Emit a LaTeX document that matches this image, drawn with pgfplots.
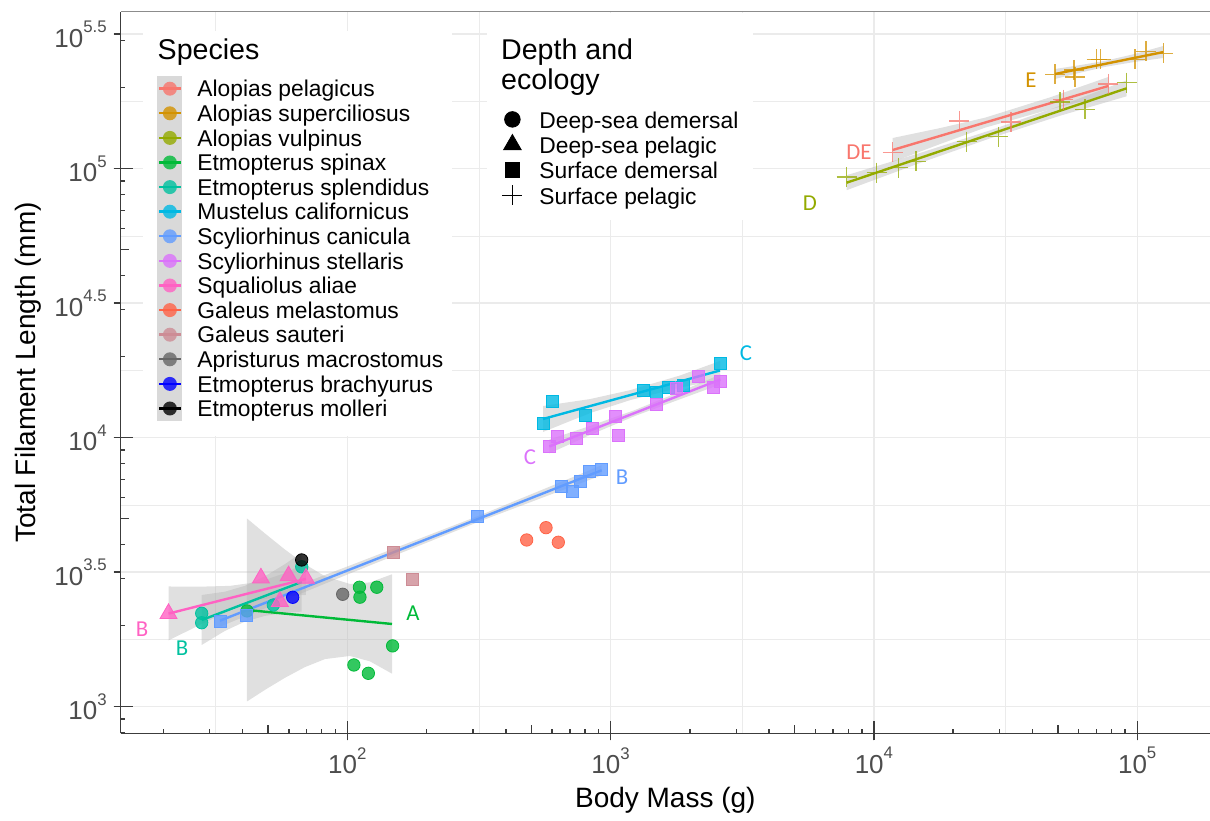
\documentclass[border=0pt]{standalone}
\usepackage{pgfplots}
\pgfplotsset{compat=1.18}
\usepackage{fontspec}
\setmainfont{Liberation Sans}
\newfontfamily\annfont{Carlito}

% species colours
\definecolor{cAP}{HTML}{F8766D}
\definecolor{cAS}{HTML}{D39200}
\definecolor{cAV}{HTML}{93AA00}
\definecolor{cES}{HTML}{00BA38}
\definecolor{cESp}{HTML}{00C19F}
\definecolor{cMC}{HTML}{00B9E3}
\definecolor{cSC}{HTML}{619CFF}
\definecolor{cSS}{HTML}{DB72FB}
\definecolor{cSA}{HTML}{FF61C3}
\definecolor{cGM}{HTML}{FF6347}
\definecolor{cGS}{HTML}{CD8C95}
\definecolor{cAM}{HTML}{666666}
\definecolor{cEB}{HTML}{0000FF}
\definecolor{cEM}{HTML}{000000}
\definecolor{gridc}{HTML}{EBEBEB}
\definecolor{tickc}{HTML}{4D4D4D}
\definecolor{axc}{HTML}{3C3C3C}

% power-of-ten tick label in the text font
\newcommand\pw[1]{10\raisebox{7.3pt}{\fontsize{8.4}{9}\selectfont #1}}

\pgfplotsset{
  panel/.style={at={(60.35pt,43.35pt)}, anchor=south west,
    scale only axis, width=544.65pt, height=360.8pt},
  pt circ/.style={only marks, color=#1, mark=*, mark size=3.1pt,
    mark options={draw=none, fill=#1, fill opacity=0.8}, forget plot},
  pt sq/.style={only marks, color=#1, mark=square*, mark size=3pt,
    mark options={draw=none, fill=#1, fill opacity=0.8}, forget plot},
  pt tri/.style={only marks, color=#1, mark=triangle*, mark size=4.9pt,
    mark options={draw=none, fill=#1, fill opacity=0.8}, forget plot},
  pt plus/.style={only marks, color=#1, mark=+, mark size=5pt,
    mark options={draw=#1, line width=0.6pt, draw opacity=0.75}, forget plot},
  band/.style={draw=none, fill=gray!60, fill opacity=0.4, forget plot},
  fit/.style={draw=#1, line width=1.2pt, no marks, forget plot},
  tickline/.style={draw=axc, line width=0.7pt, no marks, forget plot, unbounded coords=jump},
  spkey/.style={legend image code/.code={
      \fill[draw=none, black!15] (0pt,-6.15pt) rectangle (12.5pt,6.15pt);
      \draw[line width=1.2pt] (0.8pt,0pt) -- (11.7pt,0pt);
      \fill[draw=none, opacity=0.8] (6.25pt,0pt) circle (3.5pt);
  }},
  dkey/.style={only marks, black, legend image code/.code={
      \path[draw=none, fill=none] (0pt,-6.3pt) rectangle (12pt,6.3pt);
      \draw[##1] plot coordinates {(6pt,0pt)};
  }},
}

\begin{document}
\begin{tikzpicture}
\begin{axis}[
  panel,
  xmin=1.1394, xmax=5.2765, ymin=2.901, ymax=5.5836,
  clip=false,
  axis x line*=bottom, axis y line*=left,
  axis line style={-, draw=axc, line width=0.75pt},
  tick pos=left, tick align=outside,
  major tick length=3.5pt, minor tick length=0pt,
  every tick/.append style={axc, line width=0.6pt},
  xtick={2,3,4,5}, xticklabels={\pw{2},\pw{3},\pw{4},\pw{5}},
  ytick={3,3.5,4,4.5,5,5.5},
  yticklabels={\pw{3},\pw{3.5},\pw{4},\pw{4.5},\pw{5},\pw{5.5}},
  minor xtick={1.5,2.5,3.5,4.5},
  minor ytick={3.25,3.75,4.25,4.75,5.25},
  grid=both,
  major grid style={draw=gridc, line width=0.7pt},
  minor grid style={draw=gridc, line width=0.4pt},
  ticklabel style={font=\fontsize{13}{15}\selectfont, text=tickc},
  xlabel={Body Mass (g)}, ylabel={Total Filament Length (mm)},
  label style={font=\fontsize{14}{16}\selectfont},
  xlabel style={at={(axis description cs:0.5,-0.0924)}, anchor=center},
  ylabel style={at={(axis description cs:-0.0851,0.5)}, anchor=center},
  legend cell align=left,
  legend style={at={(axis description cs:0.03332,0.9109)}, anchor=north west,
    draw=none, fill=none, inner sep=0pt, row sep=0pt,
    font=\fontsize{11.4}{13}\selectfont,
    nodes={inner sep=0pt, text height=10.3pt, text depth=2pt},
    /tikz/every odd column/.append style={column sep=7.5pt}},
]

% species legend
\addlegendimage{spkey, color=cAP}\addlegendentry{Alopias pelagicus}
\addlegendimage{spkey, color=cAS}\addlegendentry{Alopias superciliosus}
\addlegendimage{spkey, color=cAV}\addlegendentry{Alopias vulpinus}
\addlegendimage{spkey, color=cES}\addlegendentry{Etmopterus spinax}
\addlegendimage{spkey, color=cESp}\addlegendentry{Etmopterus splendidus}
\addlegendimage{spkey, color=cMC}\addlegendentry{Mustelus californicus}
\addlegendimage{spkey, color=cSC}\addlegendentry{Scyliorhinus canicula}
\addlegendimage{spkey, color=cSS}\addlegendentry{Scyliorhinus stellaris}
\addlegendimage{spkey, color=cSA}\addlegendentry{Squaliolus aliae}
\addlegendimage{spkey, color=cGM}\addlegendentry{Galeus melastomus}
\addlegendimage{spkey, color=cGS}\addlegendentry{Galeus sauteri}
\addlegendimage{spkey, color=cAM}\addlegendentry{Apristurus macrostomus}
\addlegendimage{spkey, color=cEB}\addlegendentry{Etmopterus brachyurus}
\addlegendimage{spkey, color=cEM}\addlegendentry{Etmopterus molleri}

% observations: log10 body mass (g), log10 total filament length (mm)
\addplot[pt plus=cAP] coordinates {(4.0714,5.0603) (4.3243,5.1773) (4.5207,5.1736) (4.7193,5.2565) (4.8903,5.3149)};
\addplot[pt plus=cAS] coordinates {(4.6878,5.3502) (4.7600,5.3669) (4.7638,5.3409) (4.8462,5.4067) (4.8606,5.4067) (4.9916,5.4060) (5.0334,5.4357) (5.0991,5.4290)};
\addplot[pt plus=cAV] coordinates {(3.8967,4.9691) (4.0106,4.9851) (4.0927,5.0034) (4.1599,5.0279) (4.3524,5.1004) (4.4725,5.1190) (4.7068,5.2480) (4.8017,5.2214) (4.9601,5.3197)};
\addplot[pt circ=cES] coordinates {(1.619,3.356) (2.046,3.444) (2.048,3.407) (2.112,3.444) (2.172,3.226) (2.025,3.155) (2.080,3.124)};
\addplot[pt circ=cESp] coordinates {(1.447,3.347) (1.447,3.312) (1.719,3.378) (1.827,3.520)};
\addplot[pt sq=cMC] coordinates {(2.7433,4.0535) (2.7782,4.1338) (2.9028,4.0844) (3.1231,4.1747) (3.1751,4.1691) (3.2191,4.1885) (3.2776,4.1941) (3.4155,4.2766)};
\addplot[pt sq=cSC] coordinates {(1.5165,3.3186) (1.6179,3.3409) (2.4937,3.7089) (2.8143,3.8178) (2.8560,3.7993) (2.8838,3.8364) (2.9191,3.8736) (2.9662,3.8825)};
\addplot[pt sq=cSS] coordinates {(2.7672,3.9665) (2.7983,4.0037) (2.8712,3.9978) (2.9294,4.0361) (3.0167,4.0796) (3.0281,4.0100) (3.1751,4.1253) (3.2484,4.1818) (3.3331,4.2268) (3.3900,4.1885) (3.4166,4.2082)};
\addplot[pt tri=cSA] coordinates {(1.321,3.346) (1.672,3.478) (1.777,3.486) (1.843,3.477) (1.744,3.391)};
\addplot[pt circ=cGM] coordinates {(2.6813,3.6197) (2.7547,3.6654) (2.8014,3.6112)};
\addplot[pt sq=cGS] coordinates {(2.1747,3.5725) (2.2469,3.4736)};
\addplot[pt circ=cAM] coordinates {(1.9825,3.4178)};
\addplot[pt circ=cEB] coordinates {(1.7926,3.4067)};
\addplot[pt circ=cEM] coordinates {(1.8268,3.5454)};

% confidence bands of the linear fits
\addplot[band] coordinates {(4.0714,5.1141) (4.251,5.1509) (4.422,5.1896) (4.6688,5.2651) (4.8903,5.3409)
  (4.8903,5.2740) (4.6688,5.2205) (4.422,5.1524) (4.251,5.0914) (4.0714,5.0249)} -- cycle;
\addplot[band] coordinates {(4.6878,5.3706) (4.7827,5.3850) (4.8777,5.4008) (4.9916,5.4268) (5.0991,5.4561)
  (5.0991,5.4115) (4.9916,5.3970) (4.8777,5.3784) (4.7827,5.3567) (4.6878,5.3335)} -- cycle;
\addplot[band] coordinates {(3.8967,4.9758) (4.1751,5.0584) (4.4409,5.1424) (4.7068,5.2338) (4.9601,5.3286)
  (4.9601,5.2692) (4.7068,5.1967) (4.4409,5.1126) (4.1751,5.0212) (3.8967,4.9201)} -- cycle;
\addplot[band] coordinates {(1.619,3.6996) (1.6874,3.6439) (1.7634,3.5840) (1.8393,3.5294) (1.9153,3.4848) (2.0103,3.4561) (2.0862,3.4621) (2.1698,3.4922)
  (2.1698,3.1227) (2.0862,3.1684) (2.0103,3.1885) (1.9153,3.1770) (1.8393,3.1472) (1.7634,3.1074) (1.6874,3.0625) (1.619,3.0193)} -- cycle;
\addplot[band] coordinates {(1.447,3.4152) (1.5355,3.4275) (1.6115,3.4494) (1.6874,3.4848) (1.7634,3.5301) (1.827,3.5736)
  (1.827,3.3535) (1.7634,3.3487) (1.6874,3.3375) (1.6115,3.3164) (1.5355,3.2818) (1.447,3.2294)} -- cycle;
\addplot[band] coordinates {(2.7433,4.1178) (2.9218,4.1435) (3.0737,4.1766) (3.2636,4.2312) (3.4155,4.2851)
  (3.4155,4.2145) (3.2636,4.1866) (3.0737,4.1394) (2.9218,4.0914) (2.7433,4.0212)} -- cycle;
\addplot[band] coordinates {(1.5165,3.3420) (2.0103,3.5249) (2.5078,3.7130) (2.9662,3.8975)
  (2.9662,3.8603) (2.5078,3.6907) (2.0103,3.4952) (1.5165,3.2974)} -- cycle;
\addplot[band] coordinates {(2.7672,3.9933) (2.9218,4.0435) (3.0927,4.1030) (3.2636,4.1710) (3.4166,4.2350)
  (3.4166,4.1978) (3.2636,4.1428) (3.0927,4.0807) (2.9218,4.0100) (2.7672,3.9413)} -- cycle;
\addplot[band] coordinates {(1.321,3.4468) (1.4406,3.4461) (1.5545,3.4491) (1.6684,3.4645) (1.7634,3.4967) (1.843,3.5342)
  (1.843,3.4152) (1.7634,3.4119) (1.6684,3.3976) (1.5545,3.3573) (1.4406,3.3045) (1.321,3.2461)} -- cycle;

% fitted lines
\addplot[fit=cAP] coordinates {(4.0714,5.0695) (4.8903,5.3075)};
\addplot[fit=cAS] coordinates {(4.6878,5.3520) (5.0991,5.4335)};
\addplot[fit=cAV] coordinates {(3.8967,4.9480) (4.9601,5.2989)};
\addplot[fit=cES] coordinates {(1.619,3.3595) (2.1698,3.3074)};
\addplot[fit=cESp] coordinates {(1.447,3.3220) (1.827,3.4636)};
\addplot[fit=cMC] coordinates {(2.7433,4.0695) (3.4155,4.2498)};
\addplot[fit=cSC] coordinates {(1.5165,3.3197) (2.9662,3.8789)};
\addplot[fit=cSS] coordinates {(2.7672,3.9673) (3.4166,4.2164)};
\addplot[fit=cSA] coordinates {(1.321,3.3460) (1.843,3.4750)};

% logarithmic tick marks: decades cross the axis, 5x medium, other integers short
\addplot[tickline] coordinates {(2,2.875) (2,2.9456) (nan,nan) (3,2.875) (3,2.9456) (nan,nan)
  (4,2.875) (4,2.9456) (nan,nan) (5,2.875) (5,2.9456)};
\addplot[tickline] coordinates {(1.69897,2.901) (1.69897,2.9307) (nan,nan) (2.69897,2.901) (2.69897,2.9307) (nan,nan)
  (3.69897,2.901) (3.69897,2.9307) (nan,nan) (4.69897,2.901) (4.69897,2.9307)};
\addplot[tickline] coordinates {
  (1.30103,2.901) (1.30103,2.9159) (nan,nan) (1.47712,2.901) (1.47712,2.9159) (nan,nan)
  (1.60206,2.901) (1.60206,2.9159) (nan,nan) (1.77815,2.901) (1.77815,2.9159) (nan,nan)
  (1.84510,2.901) (1.84510,2.9159) (nan,nan) (1.90309,2.901) (1.90309,2.9159) (nan,nan)
  (1.95424,2.901) (1.95424,2.9159) (nan,nan)
  (2.30103,2.901) (2.30103,2.9159) (nan,nan) (2.47712,2.901) (2.47712,2.9159) (nan,nan)
  (2.60206,2.901) (2.60206,2.9159) (nan,nan) (2.77815,2.901) (2.77815,2.9159) (nan,nan)
  (2.84510,2.901) (2.84510,2.9159) (nan,nan) (2.90309,2.901) (2.90309,2.9159) (nan,nan)
  (2.95424,2.901) (2.95424,2.9159) (nan,nan)
  (3.30103,2.901) (3.30103,2.9159) (nan,nan) (3.47712,2.901) (3.47712,2.9159) (nan,nan)
  (3.60206,2.901) (3.60206,2.9159) (nan,nan) (3.77815,2.901) (3.77815,2.9159) (nan,nan)
  (3.84510,2.901) (3.84510,2.9159) (nan,nan) (3.90309,2.901) (3.90309,2.9159) (nan,nan)
  (3.95424,2.901) (3.95424,2.9159) (nan,nan)
  (4.30103,2.901) (4.30103,2.9159) (nan,nan) (4.47712,2.901) (4.47712,2.9159) (nan,nan)
  (4.60206,2.901) (4.60206,2.9159) (nan,nan) (4.77815,2.901) (4.77815,2.9159) (nan,nan)
  (4.84510,2.901) (4.84510,2.9159) (nan,nan) (4.90309,2.901) (4.90309,2.9159) (nan,nan)
  (4.95424,2.901) (4.95424,2.9159)};
\addplot[tickline] coordinates {(1.1128,3) (1.1850,3) (nan,nan) (1.1128,4) (1.1850,4) (nan,nan)
  (1.1128,5) (1.1850,5) (nan,nan) (1.1128,3.5) (1.1394,3.5) (nan,nan) (1.1128,4.5) (1.1394,4.5) (nan,nan)
  (1.1128,5.5) (1.1394,5.5) (nan,nan) (1.1394,3.69897) (1.1698,3.69897) (nan,nan) (1.1394,4.69897) (1.1698,4.69897)};
\addplot[tickline] coordinates {
  (1.1394,2.90309) (1.1546,2.90309) (nan,nan) (1.1394,2.95424) (1.1546,2.95424) (nan,nan)
  (1.1394,3.30103) (1.1546,3.30103) (nan,nan) (1.1394,3.47712) (1.1546,3.47712) (nan,nan)
  (1.1394,3.60206) (1.1546,3.60206) (nan,nan) (1.1394,3.77815) (1.1546,3.77815) (nan,nan)
  (1.1394,3.84510) (1.1546,3.84510) (nan,nan) (1.1394,3.90309) (1.1546,3.90309) (nan,nan)
  (1.1394,3.95424) (1.1546,3.95424) (nan,nan)
  (1.1394,4.30103) (1.1546,4.30103) (nan,nan) (1.1394,4.47712) (1.1546,4.47712) (nan,nan)
  (1.1394,4.60206) (1.1546,4.60206) (nan,nan) (1.1394,4.77815) (1.1546,4.77815) (nan,nan)
  (1.1394,4.84510) (1.1546,4.84510) (nan,nan) (1.1394,4.90309) (1.1546,4.90309) (nan,nan)
  (1.1394,4.95424) (1.1546,4.95424) (nan,nan)
  (1.1394,5.30103) (1.1546,5.30103) (nan,nan) (1.1394,5.47712) (1.1546,5.47712)};

% group letters
\begin{scope}[every node/.style={font=\annfont\fontsize{11.4}{13}\selectfont, anchor=center}]
\node[text=cES]  at (axis cs:2.2495,3.3483) {A};
\node[text=cSA]  at (axis cs:1.2203,3.2889) {B};
\node[text=cESp] at (axis cs:1.3722,3.2182) {B};
\node[text=cSC]  at (axis cs:3.0433,3.8539) {B};
\node[text=cSS]  at (axis cs:2.6939,3.9283) {C};
\node[text=cMC]  at (axis cs:3.5142,4.3149) {C};
\node[text=cAV]  at (axis cs:3.7573,4.8725) {D};
\node[text=cAP]  at (axis cs:3.9434,5.0621) {DE};
\node[text=cAS]  at (axis cs:4.5967,5.3297) {E};
\end{scope}

% panel top border
\draw[black!45, line width=0.7pt] (rel axis cs:0,1) -- (rel axis cs:1,1);

% legend backgrounds and titles
\fill[white] (rel axis cs:0.02047,0.41200) rectangle (rel axis cs:0.30414,0.97325);
\fill[white] (rel axis cs:0.33627,0.71134) rectangle (rel axis cs:0.58047,0.99820);
\begin{scope}[every node/.style={anchor=base west, inner sep=0pt, font=\fontsize{14.3}{16}\selectfont}]
\node at (axis description cs:0.0336,0.9331) {Species};
\node at (axis description cs:0.3489,0.9331) {Depth and};
\node at (axis description cs:0.3489,0.8915) {ecology};
\end{scope}
\end{axis}

% second legend: depth and ecology
\begin{axis}[
  panel,
  xmin=0, xmax=1, ymin=0, ymax=1, hide axis,
  legend cell align=left,
  legend style={at={(axis description cs:0.3482,0.8688)}, anchor=north west,
    draw=none, fill=none, inner sep=0pt, row sep=0pt,
    font=\fontsize{11.4}{13}\selectfont,
    nodes={inner sep=0pt, text height=10.675pt, text depth=1.975pt},
    /tikz/every odd column/.append style={column sep=7.5pt}},
]
\addlegendimage{dkey, mark=*, mark size=3.9pt}
\addlegendentry{Deep-sea demersal}
\addlegendimage{dkey, mark=triangle*, mark size=5.1pt}
\addlegendentry{Deep-sea pelagic}
\addlegendimage{dkey, mark=square*, mark size=3.7pt}
\addlegendentry{Surface demersal}
\addlegendimage{dkey, mark=+, mark size=5pt, mark options={line width=0.5pt}}
\addlegendentry{Surface pelagic}
\end{axis}

% page extent
\pgfresetboundingbox
\path[use as bounding box] (0pt,0pt) rectangle (605pt,410pt);
\end{tikzpicture}
\end{document}
